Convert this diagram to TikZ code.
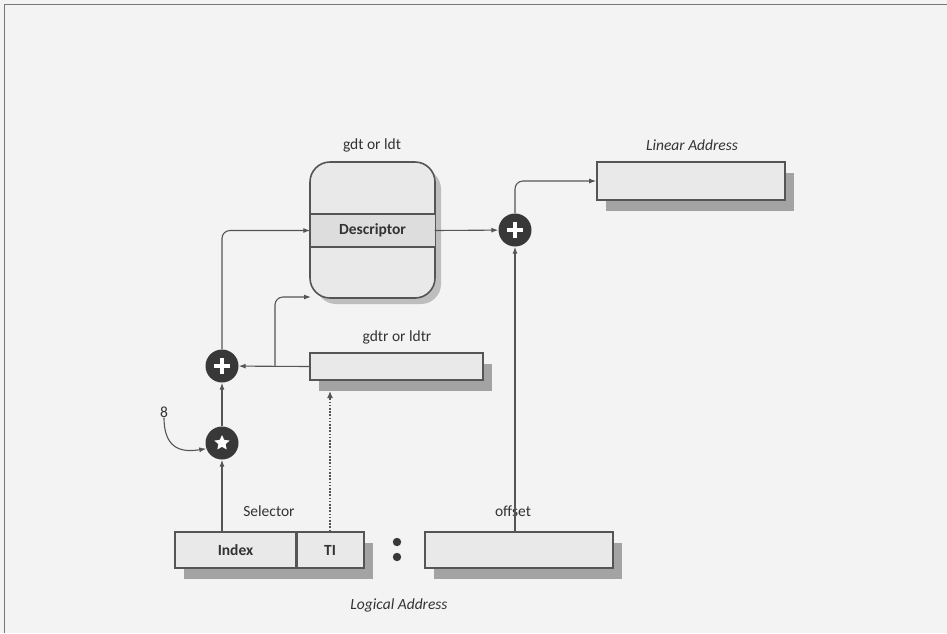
\documentclass[tikz,border=0pt]{standalone}
\usepackage{fontspec}
\setmainfont{Carlito}
\usetikzlibrary{arrows.meta,shadows,shapes.geometric,calc}
\definecolor{bg}{HTML}{F3F3F3}
\definecolor{ln}{HTML}{555555}
\definecolor{boxfill}{HTML}{E9E9E9}
\definecolor{bandfill}{HTML}{DDDDDD}
\definecolor{shade}{HTML}{A3A3A3}
\definecolor{disc}{HTML}{383838}
\definecolor{txt}{HTML}{333333}
\tikzset{
  tbox/.style={draw=ln, line width=1.6pt, fill=boxfill, inner sep=0pt,
    general shadow={fill=shade, shadow xshift=9pt, shadow yshift=-11pt}},
  op/.style={circle, fill=disc, minimum size=33pt, inner sep=0pt},
  arr/.style={draw=ln, line width=1.1pt, -{Latex[length=7pt,width=5pt]}},
  lbl/.style={text=txt, font=\fontsize{15.5}{18}\selectfont, inner sep=0pt},
  ilbl/.style={lbl, font=\fontsize{15.5}{18}\selectfont\itshape},
  blbl/.style={lbl, font=\fontsize{15.5}{18}\selectfont\bfseries},
  plusmark/.style={white, line width=3.6pt},
}
\begin{document}
\begin{tikzpicture}[x=1pt,y=-1pt]
\useasboundingbox (0,0) rectangle (947,633);
\fill[bg] (0,0) rectangle (947,633);
% frame
\draw[ln!80, line width=1.5pt] (4.5,633) -- (4.5,4.5) -- (947,4.5);

% gdt / ldt table
\fill[shade!70, rounded corners=20pt] (316,169) rectangle (441,304);
\node[draw=ln, line width=1.6pt, fill=boxfill, rounded corners=20pt,
  minimum width=125pt, minimum height=136pt, inner sep=0pt] (gdt) at (372.5,230) {};
\node[fill=bandfill, minimum width=124pt, minimum height=33pt, inner sep=0pt] (desc) at (372.5,230.5) {};
\draw[ln, line width=1.6pt] (desc.north west) -- (desc.north east);
\draw[ln, line width=1.6pt] (desc.south west) -- (desc.south east);
\node[blbl] (desctext) at (desc.center) {Descriptor};
\node[lbl] (gdtlbl) at (372,145) {gdt or ldt};

% linear address
\node[tbox, minimum width=188pt, minimum height=38pt] (lin) at (691,181) {};
\node[ilbl] (linlbl) at (692,145) {Linear Address};

% right adder
\node[op] (plusR) at (515,230) {};
\draw[plusmark] ($(plusR)+(-8,0)$) -- ($(plusR)+(8,0)$);
\draw[plusmark] ($(plusR)+(0,-8)$) -- ($(plusR)+(0,8)$);

% gdtr
\node[tbox, minimum width=173pt, minimum height=27pt] (gdtr) at (396.5,366.5) {};
\node[lbl] (gdtrlbl) at (397,337) {gdtr or ldtr};

% left adder
\node[op] (plusL) at (222,366) {};
\draw[plusmark] ($(plusL)+(-8,0)$) -- ($(plusL)+(8,0)$);
\draw[plusmark] ($(plusL)+(0,-8)$) -- ($(plusL)+(0,8)$);

% multiplier
\node[op] (starC) at (222,443) {};
\node[star, star points=5, star point ratio=2.1, fill=white, minimum size=16pt, inner sep=0pt] (starmark) at (starC) {};
\node[lbl] (eight) at (164,412) {8};

% selector
\node[tbox, minimum width=121pt, minimum height=36pt] (idx) at (235.5,550) {};
\node[tbox, minimum width=68pt, minimum height=36pt] (ti) at (330,550) {};
\draw[ln, line width=1.6pt] (idx.north east) -- (idx.south east);
\node[blbl] (idxtext) at (idx.center) {Index};
\node[blbl] (titext) at (ti.center) {TI};
\node[lbl] (sellbl) at (269,511) {Selector};

% colon
\fill[disc] (397,542) circle (4.2pt);
\fill[disc] (397,557) circle (4.2pt);

% offset
\node[tbox, minimum width=188pt, minimum height=36pt] (off) at (519,550) {};
\node[lbl] (offlbl) at (513,511) {offset};
\node[ilbl] (loglbl) at (399,605) {Logical Address};

% connectors
\coordinate (br) at (275,366);
\coordinate (gin) at (311,297);
\coordinate (tiend) at (330,391);
\draw[arr] (desc.east) -- (plusR);
\draw[arr, rounded corners=8pt] (plusR.north) |- (lin.west);
\draw[arr] (plusR |- off.north) -- (plusR.south);
\draw[arr] (gdtr.west) -- (plusL);
\draw[arr, rounded corners=8pt] (br) |- (gin);
\draw[arr, rounded corners=8pt] (plusL.north) |- (desc.west);
\draw[arr] (starC.north) -- (plusL.south);
\draw[arr] (starC |- idx.north) -- (starC.south);
\draw[ln, line width=2.2pt, dash pattern=on 1.6pt off 1.6pt, -{Latex[length=7pt,width=6pt]}] (ti.north) -- (tiend);
\draw[arr] (eight.south) .. controls (164,452) and (185,452) .. (starC.200);
\end{tikzpicture}
\end{document}
